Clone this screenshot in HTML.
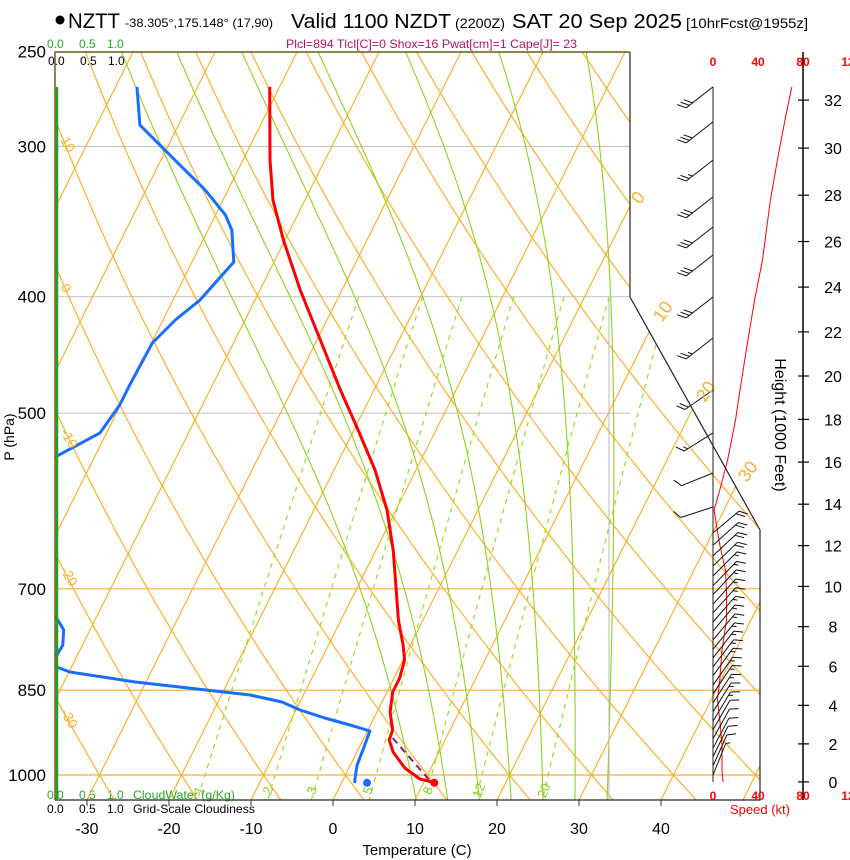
<!DOCTYPE html>
<html><head><meta charset="utf-8"><title>NZTT Skew-T</title>
<style>
html,body{margin:0;padding:0;background:#fff;}
svg{display:block;font-family:"Liberation Sans",sans-serif;}
</style></head>
<body>
<svg id="chart" width="850" height="860" viewBox="0 0 850 860" xmlns="http://www.w3.org/2000/svg">
  <defs>
    <clipPath id="plotclip"><polygon points="55,52 630,52 630,297 760,530 760,800 55,800"/></clipPath>
  </defs>
  <g>
    <circle cx="60" cy="20" r="4.5" fill="#000"/>
    <text x="68" y="28" font-size="21" textLength="52" lengthAdjust="spacingAndGlyphs">NZTT</text>
    <text x="125" y="27" font-size="12" textLength="148" lengthAdjust="spacingAndGlyphs">-38.305°,175.148° (17,90)</text>
    <text x="291" y="28" font-size="20" textLength="160" lengthAdjust="spacingAndGlyphs">Valid 1100 NZDT</text>
    <text x="455" y="28" font-size="14" textLength="50" lengthAdjust="spacingAndGlyphs">(2200Z)</text>
    <text x="512" y="28" font-size="20" textLength="170" lengthAdjust="spacingAndGlyphs">SAT 20 Sep 2025</text>
    <text x="686" y="28" font-size="14" textLength="122" lengthAdjust="spacingAndGlyphs">[10hrFcst@1955z]</text>
    <text x="286" y="48" font-size="12" fill="#b8145a" textLength="291" lengthAdjust="spacingAndGlyphs">Plcl=894 Tlcl[C]=0 Shox=16 Pwat[cm]=1 Cape[J]= 23</text>
  </g>
  <g font-size="12">
    <text x="47" y="48" fill="#22aa22">0.0</text>
    <text x="79" y="48" fill="#22aa22">0.5</text>
    <text x="107" y="48" fill="#22aa22">1.0</text>
    <text x="48" y="65">0.0</text>
    <text x="80" y="65">0.5</text>
    <text x="108" y="65">1.0</text>
    <text x="47" y="799" fill="#22aa22">0.0</text>
    <text x="79" y="799" fill="#22aa22">0.5</text>
    <text x="107" y="799" fill="#22aa22">1.0</text>
    <text x="133" y="799" fill="#22aa22" textLength="102" lengthAdjust="spacingAndGlyphs">CloudWater (g/Kg)</text>
    <text x="47" y="813">0.0</text>
    <text x="79" y="813">0.5</text>
    <text x="107" y="813">1.0</text>
    <text x="133" y="813" textLength="122" lengthAdjust="spacingAndGlyphs">Grid-Scale Cloudiness</text>
  </g>
  <g id="grid" clip-path="url(#plotclip)"></g>
  <g id="marks"></g>
  <g id="axes"></g>
</svg>
<script>
// ---- data ----
const pressureTicks = [250, 300, 400, 500, 700, 850, 1000];
const tempTicks = [-30, -20, -10, 0, 10, 20, 30, 40];
const heightTicks = [0, 2, 4, 6, 8, 10, 12, 14, 16, 18, 20, 22, 24, 26, 28, 30, 32];
const isotherms = [-110,-100,-90,-80,-70,-60,-50,-40,-30,-20,-10,0,10,20,30,40,50];
const dryThetas = [-50,-40,-30,-20,-10,0,10,20,30,40,50,60,70,80,90,100,110,120,130];
const thetaW = [8, 12, 16, 20, 24, 28, 32];
const mixRatios = [1, 2, 3, 5, 8, 12, 20];
const tempP = [267.6,307.9,332.4,358.8,394.9,434.6,478.3,516.4,557.5,601.9,649.9,701.6,743.1,779.6,802.3,830.4,853.0,886.3,917.4,935.2,956.9,986.7,1007.7,1013.5];
const tempT = [-51.2,-46.7,-43.9,-40.2,-35.1,-29.6,-24.1,-19.5,-15.0,-11.1,-7.9,-5.1,-3.0,-0.9,0.2,0.7,0.7,1.6,3.0,3.2,4.4,6.8,9.3,11.0];
const dewP = [267.6,287.9,307.9,326.0,342.0,352.0,374.3,402.5,418.3,437.1,473.7,492.2,519.3,543.8,568.3,662.4,731.8,740.2,757.5,779.6,794.6,805.3,813.1,820.9,836.8,849.7,857.9,869.5,882.9,896.5,908.7,919.2,953.2,981.0,1003.8,1015.4];
const dewT = [-67.4,-64.7,-58.3,-52.8,-48.8,-47.1,-44.9,-46.7,-48.5,-49.9,-50.1,-50.1,-50.8,-54.8,-57.7,-60.1,-47.2,-44.8,-43.2,-42.4,-42.5,-44.1,-41.8,-39.9,-31.3,-22.2,-16.5,-12.2,-9.5,-6.0,-2.5,0.3,0.6,0.8,1.3,1.6];
const parcelP = [931.6, 1011.6];
const parcelT = [3.5, 10.7];
const sfcP = 1015;
const sfcT = 11.3;
const sfcTd = 3.1;
const windP = [267.6,285.1,304.9,332.4,372.8,402.5,434.6,478.3,506.6,546.9,579.3,601.9,619.5,643.6,675.2,701.6,743.1,787.0,833.6,866.1,900.0,944.1,990.5,1013.5];
const windSpd = [70,64,58,51,44,37,31,24,20,13,6,1,3,6,11,12,12,8,6,4,6,8,8,9];
const barbP = [267.6,286.2,307.9,330.4,350.0,369.3,400.2,432.9,478.3,519.3,560.7,598.5,629,644,657,670,683,696,708,721,733,746,759,772,786,799,813,827,842,856,871,886,902,917,933,950,966,983,1000];
const barbDir = [232,232,232,232,232,232,232,232,235,238,248,252,50,48,47,46,45,44,43,42,42,41,40,40,39,38,37,36,35,34,33,32,31,30,29,28,26,24,22];
const barbSpd = [30,30,25,30,30,30,30,25,20,15,10,10,20,20,20,20,15,15,15,15,15,15,15,15,15,15,15,15,15,15,15,15,15,10,10,10,10,10,5];

// ---- scales ----
const NS = "http://www.w3.org/2000/svg";
function yP(p){ return 775 - 522*Math.log(1000/p); }
function xT(T,p){ return 333 + 8.2*T + 0.5*(800 - yP(p)); }
function xSpd(s){ return 713 + 1.125*s; }
function pFromFt(kft){ const m = kft*1000*0.3048; return 1013.25*Math.pow(1-2.25577e-5*m, 5.25588); }
function mk(tag, attrs, parent){
  const el = document.createElementNS(NS, tag);
  for (const k in attrs) el.setAttribute(k, attrs[k]);
  parent.appendChild(el);
  return el;
}
function pathFrom(pts){ return pts.map((q,i)=>(i?'L':'M')+q[0].toFixed(1)+','+q[1].toFixed(1)).join(''); }
const grid = document.getElementById('grid');
const marks = document.getElementById('marks');
const axes = document.getElementById('axes');
const ORANGE = '#f9b128', GREEN = '#8fd11a';

pressureTicks.forEach(p=>{
  if (p===250) return;
  const y = yP(p);
  const orange = p>=700;
  const el = mk('line',{x1:55,x2:orange?760:630,y1:y,y2:y,stroke:orange?ORANGE:'#c8c8c8','stroke-width':1.2},grid);
  
  
});
isotherms.forEach(T=>{
  const el = mk('line',{x1:xT(T,1060),y1:yP(1060),x2:xT(T,240),y2:yP(240),stroke:ORANGE,'stroke-width':1.2},grid);
  
  
});
dryThetas.forEach(th=>{
  const pts=[];
  for(let p=240;p<=1060;p+=10){ const T=(th+273.15)*Math.pow(p/1000,0.2857)-273.15; pts.push([xT(T,p),yP(p)]); }
  const el = mk('path',{d:pathFrom(pts),fill:'none',stroke:ORANGE,'stroke-width':1.2},grid);
  
  
});
function es(Tc){ return 6.112*Math.exp(17.67*Tc/(Tc+243.5)); }
function dTdlnp(TK,p){
  const Tc=TK-273.15, e=es(Tc), rs=0.622*e/(p-e);
  const Lv=2.501e6, Rd=287.04, cpd=1005.7;
  return (Rd*TK + Lv*rs)/(cpd + Lv*Lv*rs*0.622/(Rd*TK*TK));
}
thetaW.forEach(tw=>{
  const up=[], down=[];
  let T=tw+273.15;
  for(let p=1000;p>=240;p-=2){ up.push([xT(T-273.15,p),yP(p)]); T -= dTdlnp(T,p)*2/p; }
  T=tw+273.15;
  for(let p=1000;p<=1060;p+=2){ down.push([xT(T-273.15,p),yP(p)]); T += dTdlnp(T,p)*2/p; }
  const pts = down.reverse().concat(up);
  const el = mk('path',{d:pathFrom(pts),fill:'none',stroke:GREEN,'stroke-width':1.1},grid);
  
  
});
mixRatios.forEach(w=>{
  const pts=[];
  for(let p=400;p<=1050;p+=10){ const e=w*p/(622+w); const l=Math.log(e/6.112); const Td=243.5*l/(17.67-l); pts.push([xT(Td,p),yP(p)]); }
  const el = mk('path',{d:pathFrom(pts),fill:'none',stroke:'#99dd22','stroke-width':1.2,'stroke-dasharray':'5,5'},grid);
  
  
});
{
  const el = mk('line',{x1:609,x2:609,y1:297,y2:800,stroke:'#bbbbbb','stroke-width':1},grid);
  
  
}
const isoLab = [[640,205,'0'],[662,323,'10'],[705,403,'20'],[747,483,'30']];
isoLab.forEach(a=>{
  const el = mk('text',{x:a[0],y:a[1],'font-size':18,fill:ORANGE,transform:`rotate(-55 ${a[0]} ${a[1]})`},axes);
  el.textContent=a[2];
  
  
});
const thLab = [[60,140,'10'],[60,287,'0'],[60,432,'-10'],[60,570,'-20'],[60,712,'-30']];
thLab.forEach(a=>{
  const el = mk('text',{x:a[0],y:a[1],'font-size':14,fill:ORANGE,transform:`rotate(60 ${a[0]} ${a[1]})`},axes);
  el.textContent=a[2];
  
  
});
const mrLabX = [203,272,316,372,432,483,548];
mixRatios.forEach((w,i)=>{
  const x=mrLabX[i], y=792;
  const el = mk('text',{x:x,y:y,'font-size':13,fill:'#88cc22','text-anchor':'middle',transform:`rotate(-70 ${x} ${y})`},axes);
  el.textContent=String(w);
  
  
});

{
  const b = mk('path',{d:'M55,800 L55,52 L630,52',fill:'none',stroke:'#6b5b1a','stroke-width':1.5},axes);
  
  
  const b2 = mk('path',{d:'M630,52 L630,297 L760,530 L760,800 L55,800',fill:'none',stroke:'#222','stroke-width':1.2},axes);
  
  
  const cw = mk('line',{x1:57,x2:57,y1:87,y2:800,stroke:'#22a022','stroke-width':2.5},axes);
  
  
  const wl = mk('line',{x1:713,x2:713,y1:yP(267.6),y2:782,stroke:'#222','stroke-width':1},axes);
  
  
  const hl = mk('line',{x1:803,x2:803,y1:52,y2:800,stroke:'#000','stroke-width':1.5},axes);
  
  
}
pressureTicks.forEach(p=>{
  const el = mk('text',{x:46,y:yP(p)+6,'font-size':17,'text-anchor':'end'},axes);
  el.textContent=String(p);
  
  
});
tempTicks.forEach(T=>{
  const x=333+8.2*T;
  const t = mk('line',{x1:x,x2:x,y1:800,y2:806,stroke:'#333','stroke-width':1},axes);
  
  
  const el = mk('text',{x:x,y:834,'font-size':16,'text-anchor':'middle'},axes);
  el.textContent=String(T);
  
  
});
heightTicks.forEach(h=>{
  const y=yP(pFromFt(h));
  const t = mk('line',{x1:798,x2:809,y1:y,y2:y,stroke:'#000','stroke-width':1.2},axes);
  
  
  const el = mk('text',{x:833,y:y+6,'font-size':16,'text-anchor':'middle'},axes);
  el.textContent=String(h);
  
  
});
{
  let el = mk('text',{x:417,y:855,'font-size':15,'text-anchor':'middle'},axes);
  el.textContent='Temperature (C)';
  
  
  el = mk('text',{x:14,y:437,'font-size':14,'text-anchor':'middle',transform:'rotate(-90 14 437)'},axes);
  el.textContent='P (hPa)';
  
  
  el = mk('text',{x:775,y:425,'font-size':16,'text-anchor':'middle',transform:'rotate(90 775 425)'},axes);
  el.textContent='Height (1000 Feet)';
  
  
  el = mk('text',{x:760,y:814,'font-size':13,'text-anchor':'middle',fill:'#ff0000'},axes);
  el.textContent='Speed (kt)';
  
  
}
const spdTicks = [0,40,80,120];
spdTicks.forEach(s=>{
  [66,800].forEach(y=>{
    const el = mk('text',{x:xSpd(s),y:y,'font-size':12,'font-weight':'bold','text-anchor':'middle',fill:'#ff0000'},axes);
    el.textContent = s===120 ? '12' : String(s);
    
    
  });
});

{
  const tp = tempP.map((p,i)=>[xT(tempT[i],p),yP(p)]);
  const el = mk('path',{d:pathFrom(tp),fill:'none',stroke:'#ff0000','stroke-width':3,'stroke-linejoin':'round'},marks);
  
  
  const g = mk('g',{'clip-path':'url(#plotclip)'},marks);
  
  
  const dp = dewP.map((p,i)=>[xT(dewT[i],p),yP(p)]);
  const el2 = mk('path',{d:pathFrom(dp),fill:'none',stroke:'#1a6eff','stroke-width':3,'stroke-linejoin':'round'},g);
  
  
  const pp = parcelP.map((p,i)=>[xT(parcelT[i],p),yP(p)]);
  const el3 = mk('path',{d:pathFrom(pp),fill:'none',stroke:'#7a1f6e','stroke-width':2,'stroke-dasharray':'7,5'},marks);
  
  
  const c1 = mk('circle',{cx:xT(sfcT,sfcP),cy:yP(sfcP),r:4,fill:'#ff0000'},marks);
  
  
  const c2 = mk('circle',{cx:xT(sfcTd,sfcP),cy:yP(sfcP),r:4,fill:'#1a6eff'},marks);
  
  
  const wp = windP.map((p,i)=>[xSpd(windSpd[i]),yP(p)]);
  const el4 = mk('path',{d:pathFrom(wp),fill:'none',stroke:'#ff0000','stroke-width':1},marks);
  
  
}
barbP.forEach((p,i)=>{
  const d = barbDir[i]*Math.PI/180;
  const ux=Math.sin(d), uy=-Math.cos(d);
  const sx=713, sy=yP(p), L=34;
  const ex=sx+L*ux, ey=sy+L*uy;
  const px=-uy, py=ux;
  const fx=(px*0.8+ux*0.5), fy=(py*0.8+uy*0.5);
  let dstr=`M${sx.toFixed(1)},${sy.toFixed(1)}L${ex.toFixed(1)},${ey.toFixed(1)}`;
  let s=barbSpd[i], k=0;
  while(s>=10){ const bx=ex-ux*4*k, by=ey-uy*4*k; dstr+=`M${bx.toFixed(1)},${by.toFixed(1)}l${(fx*10).toFixed(1)},${(fy*10).toFixed(1)}`; s-=10; k++; }
  if(s>=5){ const bx=ex-ux*4*k, by=ey-uy*4*k; dstr+=`M${bx.toFixed(1)},${by.toFixed(1)}l${(fx*5).toFixed(1)},${(fy*5).toFixed(1)}`; }
  const el = mk('path',{d:dstr,fill:'none',stroke:'#111','stroke-width':1},marks);
  
  
});
</script>
</body></html>
